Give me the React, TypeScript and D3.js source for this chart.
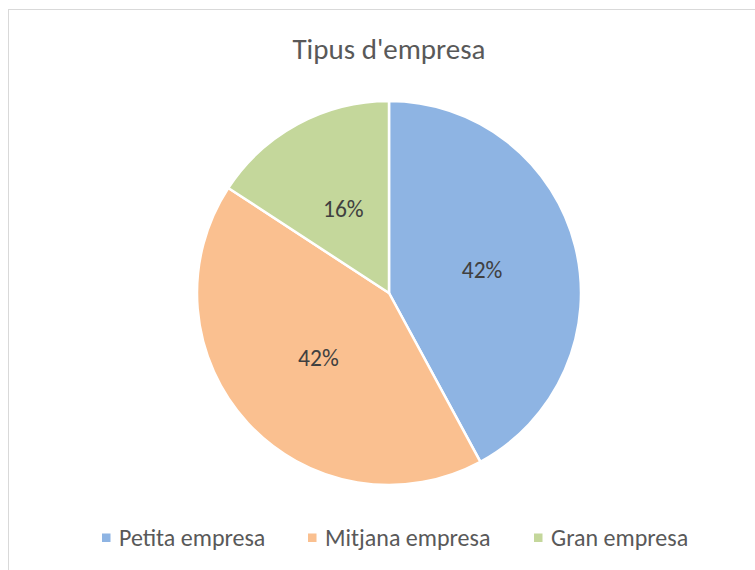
import * as d3 from "d3";
import React from "react";

const categories = ["Petita empresa", "Mitjana empresa", "Gran empresa"];
const values = [8, 8, 3];
const colors = ["#8EB4E3", "#FAC090", "#C4D79B"];
const title = "Tipus d'empresa";

const width = 755;
const height = 570;
const cx = 389;
const cy = 293;
const radius = 192;
const font = "Calibri, Carlito, 'Open Sans', sans-serif";

export default function App() {
  const total = d3.sum(values);
  const pie = d3.pie<number>().sort(null).value((d) => d);
  const arcs = pie(values);
  const arc = d3.arc<d3.PieArcDatum<number>>().innerRadius(0).outerRadius(radius);
  const fmt = d3.format(".0%");

  // legend entries, positioned to match the reference
  const legendX = [102, 308, 534];

  return (
    <svg
      width={width}
      height={height}
      style={{ position: "absolute", left: 0, top: 0, background: "#fff" }}
      fontFamily={font}
    >
      <rect x={8.5} y={9.5} width={width} height={height} fill="#fff" stroke="#D9D9D9" strokeWidth={1} />
      <text x={cx} y={59} textAnchor="middle" fontSize={29} fill="#595959">
        {title}
      </text>
      <g transform={`translate(${cx},${cy})`}>
        {arcs.map((a, i) => (
          <path key={categories[i]} d={arc(a) || ""} fill={colors[i]} stroke="#fff" strokeWidth={2.5} />
        ))}
        {arcs.map((a, i) => {
          const [x, y] = arc.centroid(a);
          return (
            <text key={i} x={x} y={y} dy="0.35em" textAnchor="middle" fontSize={23.5} fill="#404040">
              {fmt(values[i] / total)}
            </text>
          );
        })}
      </g>
      <g>
        {categories.map((c, i) => (
          <g key={c} transform={`translate(${legendX[i]},538)`}>
            <rect x={0} y={-4.5} width={8.5} height={8.5} fill={colors[i]} />
            <text x={17} y={0} dy="0.35em" fontSize={24} fill="#595959">
              {c}
            </text>
          </g>
        ))}
      </g>
    </svg>
  );
}
